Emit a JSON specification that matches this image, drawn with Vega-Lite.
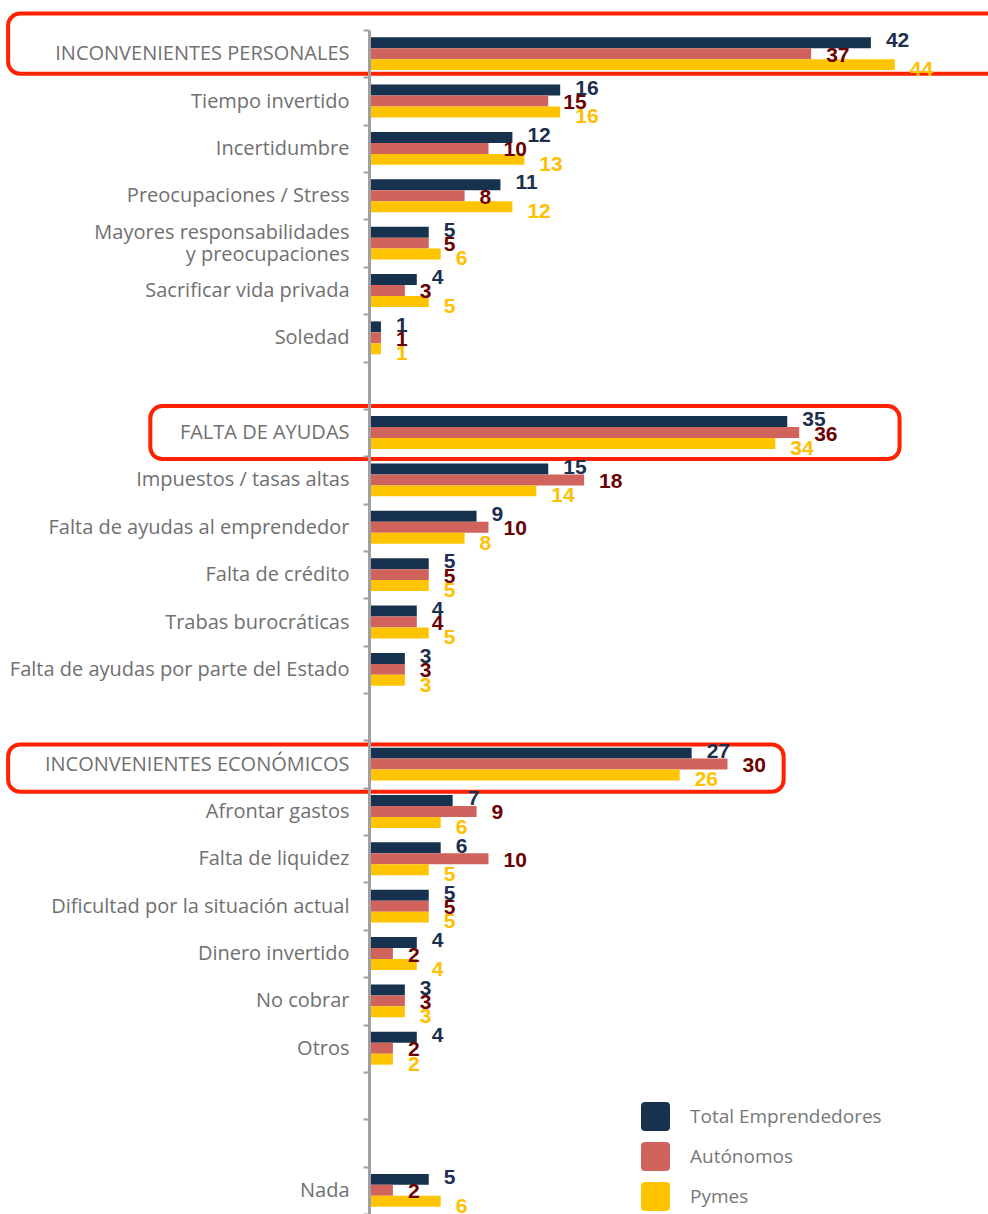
{
  "$schema": "https://vega.github.io/schema/vega-lite/v6.json",
  "autosize": "none",
  "width": 619,
  "height": 1184,
  "padding": {"left": 369, "top": 30, "right": 0, "bottom": 0},
  "background": "white",
  "config": {"view": {"stroke": null}},
  "data": {"values": [
    {"cat": "INCONVENIENTES PERSONALES", "serie": "Total Emprendedores", "valor": 42},
    {"cat": "INCONVENIENTES PERSONALES", "serie": "Autónomos", "valor": 37},
    {"cat": "INCONVENIENTES PERSONALES", "serie": "Pymes", "valor": 44},
    {"cat": "Tiempo invertido", "serie": "Total Emprendedores", "valor": 16},
    {"cat": "Tiempo invertido", "serie": "Autónomos", "valor": 15},
    {"cat": "Tiempo invertido", "serie": "Pymes", "valor": 16},
    {"cat": "Incertidumbre", "serie": "Total Emprendedores", "valor": 12},
    {"cat": "Incertidumbre", "serie": "Autónomos", "valor": 10},
    {"cat": "Incertidumbre", "serie": "Pymes", "valor": 13},
    {"cat": "Preocupaciones / Stress", "serie": "Total Emprendedores", "valor": 11},
    {"cat": "Preocupaciones / Stress", "serie": "Autónomos", "valor": 8},
    {"cat": "Preocupaciones / Stress", "serie": "Pymes", "valor": 12},
    {"cat": "Mayores responsabilidades y preocupaciones", "serie": "Total Emprendedores", "valor": 5},
    {"cat": "Mayores responsabilidades y preocupaciones", "serie": "Autónomos", "valor": 5},
    {"cat": "Mayores responsabilidades y preocupaciones", "serie": "Pymes", "valor": 6},
    {"cat": "Sacrificar vida privada", "serie": "Total Emprendedores", "valor": 4},
    {"cat": "Sacrificar vida privada", "serie": "Autónomos", "valor": 3},
    {"cat": "Sacrificar vida privada", "serie": "Pymes", "valor": 5},
    {"cat": "Soledad", "serie": "Total Emprendedores", "valor": 1},
    {"cat": "Soledad", "serie": "Autónomos", "valor": 1},
    {"cat": "Soledad", "serie": "Pymes", "valor": 1},
    {"cat": "FALTA DE AYUDAS", "serie": "Total Emprendedores", "valor": 35},
    {"cat": "FALTA DE AYUDAS", "serie": "Autónomos", "valor": 36},
    {"cat": "FALTA DE AYUDAS", "serie": "Pymes", "valor": 34},
    {"cat": "Impuestos / tasas altas", "serie": "Total Emprendedores", "valor": 15},
    {"cat": "Impuestos / tasas altas", "serie": "Autónomos", "valor": 18},
    {"cat": "Impuestos / tasas altas", "serie": "Pymes", "valor": 14},
    {"cat": "Falta de ayudas al emprendedor", "serie": "Total Emprendedores", "valor": 9},
    {"cat": "Falta de ayudas al emprendedor", "serie": "Autónomos", "valor": 10},
    {"cat": "Falta de ayudas al emprendedor", "serie": "Pymes", "valor": 8},
    {"cat": "Falta de crédito", "serie": "Total Emprendedores", "valor": 5},
    {"cat": "Falta de crédito", "serie": "Autónomos", "valor": 5},
    {"cat": "Falta de crédito", "serie": "Pymes", "valor": 5},
    {"cat": "Trabas burocráticas", "serie": "Total Emprendedores", "valor": 4},
    {"cat": "Trabas burocráticas", "serie": "Autónomos", "valor": 4},
    {"cat": "Trabas burocráticas", "serie": "Pymes", "valor": 5},
    {"cat": "Falta de ayudas por parte del Estado", "serie": "Total Emprendedores", "valor": 3},
    {"cat": "Falta de ayudas por parte del Estado", "serie": "Autónomos", "valor": 3},
    {"cat": "Falta de ayudas por parte del Estado", "serie": "Pymes", "valor": 3},
    {"cat": "INCONVENIENTES ECONÓMICOS", "serie": "Total Emprendedores", "valor": 27},
    {"cat": "INCONVENIENTES ECONÓMICOS", "serie": "Autónomos", "valor": 30},
    {"cat": "INCONVENIENTES ECONÓMICOS", "serie": "Pymes", "valor": 26},
    {"cat": "Afrontar gastos", "serie": "Total Emprendedores", "valor": 7},
    {"cat": "Afrontar gastos", "serie": "Autónomos", "valor": 9},
    {"cat": "Afrontar gastos", "serie": "Pymes", "valor": 6},
    {"cat": "Falta de liquidez", "serie": "Total Emprendedores", "valor": 6},
    {"cat": "Falta de liquidez", "serie": "Autónomos", "valor": 10},
    {"cat": "Falta de liquidez", "serie": "Pymes", "valor": 5},
    {"cat": "Dificultad por la situación actual", "serie": "Total Emprendedores", "valor": 5},
    {"cat": "Dificultad por la situación actual", "serie": "Autónomos", "valor": 5},
    {"cat": "Dificultad por la situación actual", "serie": "Pymes", "valor": 5},
    {"cat": "Dinero invertido", "serie": "Total Emprendedores", "valor": 4},
    {"cat": "Dinero invertido", "serie": "Autónomos", "valor": 2},
    {"cat": "Dinero invertido", "serie": "Pymes", "valor": 4},
    {"cat": "No cobrar", "serie": "Total Emprendedores", "valor": 3},
    {"cat": "No cobrar", "serie": "Autónomos", "valor": 3},
    {"cat": "No cobrar", "serie": "Pymes", "valor": 3},
    {"cat": "Otros", "serie": "Total Emprendedores", "valor": 4},
    {"cat": "Otros", "serie": "Autónomos", "valor": 2},
    {"cat": "Otros", "serie": "Pymes", "valor": 2},
    {"cat": "Nada", "serie": "Total Emprendedores", "valor": 5},
    {"cat": "Nada", "serie": "Autónomos", "valor": 2},
    {"cat": "Nada", "serie": "Pymes", "valor": 6}
  ]},
  "encoding": {
    "x": {"field": "valor", "type": "quantitative", "scale": {"domain": [0, 51.8], "nice": false, "zero": true}, "axis": null},
    "y": {
      "field": "cat",
      "type": "nominal",
      "scale": {
        "domain": ["INCONVENIENTES PERSONALES", "Tiempo invertido", "Incertidumbre", "Preocupaciones / Stress", "Mayores responsabilidades y preocupaciones", "Sacrificar vida privada", "Soledad", " ", "FALTA DE AYUDAS", "Impuestos / tasas altas", "Falta de ayudas al emprendedor", "Falta de crédito", "Trabas burocráticas", "Falta de ayudas por parte del Estado", "  ", "INCONVENIENTES ECONÓMICOS", "Afrontar gastos", "Falta de liquidez", "Dificultad por la situación actual", "Dinero invertido", "No cobrar", "Otros", "   ", "    ", "Nada"],
        "paddingInner": 0,
        "paddingOuter": 0
      },
      "axis": {
        "title": null,
        "tickBand": "extent",
        "domainColor": "#a0a0a0",
        "domainWidth": 3,
        "tickColor": "#a0a0a0",
        "tickWidth": 2,
        "tickSize": 6,
        "labelPadding": 14,
        "labelFont": "Open Sans",
        "labelFontSize": 20,
        "labelColor": "#707070",
        "labelLimit": 400,
        "labelLineHeight": 22,
        "labelOffset": {"condition": {"test": "datum.value == 'Mayores responsabilidades y preocupaciones'", "value": -11}, "value": 0},
        "labelExpr": "datum.label == 'Mayores responsabilidades y preocupaciones' ? ['Mayores responsabilidades', 'y preocupaciones'] : datum.label"
      }
    }
  },
  "layer": [
    {
      "transform": [{"filter": "datum.serie == 'Total Emprendedores' && datum.cat == 'INCONVENIENTES PERSONALES'"}],
      "mark": {"type": "rect", "fillOpacity": 0, "stroke": "#ff2200", "strokeWidth": 4, "cornerRadius": 12, "height": {"band": 1.27}, "yOffset": -10},
      "encoding": {"x": {"datum": -30.2, "type": "quantitative"}, "x2": {"datum": 53}}
    },
    {
      "transform": [{"filter": "datum.serie == 'Total Emprendedores' && datum.cat == 'FALTA DE AYUDAS'"}],
      "mark": {"type": "rect", "fillOpacity": 0, "stroke": "#ff2200", "strokeWidth": 4, "cornerRadius": 12, "height": {"band": 1.12}},
      "encoding": {"x": {"datum": -18.3, "type": "quantitative"}, "x2": {"datum": 44.4}}
    },
    {
      "transform": [{"filter": "datum.serie == 'Total Emprendedores' && datum.cat == 'INCONVENIENTES ECONÓMICOS'"}],
      "mark": {"type": "rect", "fillOpacity": 0, "stroke": "#ff2200", "strokeWidth": 4, "cornerRadius": 12, "yOffset": 4},
      "encoding": {"x": {"datum": -30.2, "type": "quantitative"}, "x2": {"datum": 34.7}}
    },
    {
      "mark": {"type": "bar"},
      "encoding": {
        "yOffset": {"field": "serie", "type": "nominal", "scale": {"domain": ["Total Emprendedores", "Autónomos", "Pymes"], "paddingInner": 0, "paddingOuter": 0.66}},
        "color": {
          "field": "serie",
          "type": "nominal",
          "scale": {"domain": ["Total Emprendedores", "Autónomos", "Pymes"], "range": ["#17324f", "#d0635b", "#ffc400"]},
          "legend": {
            "title": null,
            "orient": "none",
            "legendX": 272,
            "legendY": 1072,
            "direction": "vertical",
            "padding": 0,
            "symbolType": "M-0.72,-1H0.72Q1,-1 1,-0.72V0.72Q1,1 0.72,1H-0.72Q-1,1 -1,0.72V-0.72Q-1,-1 -0.72,-1Z",
            "symbolSize": 841,
            "symbolStrokeWidth": 0,
            "symbolOpacity": 1,
            "rowPadding": 11,
            "labelOffset": 20,
            "labelLimit": 0,
            "labelFont": "Open Sans",
            "labelFontSize": 19,
            "labelColor": "#777777"
          }
        }
      }
    },
    {
      "mark": {"type": "text", "align": "left", "baseline": "middle", "dx": 15, "dy": 2, "font": "Liberation Sans", "fontWeight": "bold", "fontSize": 21},
      "encoding": {
        "yOffset": {"field": "serie", "type": "nominal", "scale": {"domain": ["Total Emprendedores", "Autónomos", "Pymes"], "paddingInner": 0, "paddingOuter": 0.66}},
        "text": {"field": "valor", "type": "quantitative"},
        "color": {
          "field": "serie",
          "type": "nominal",
          "scale": {"domain": ["Total Emprendedores", "Autónomos", "Pymes"], "range": ["#1c2f4f", "#6b0000", "#ffc000"]},
          "legend": null
        }
      }
    }
  ],
  "resolve": {"scale": {"color": "independent", "yOffset": "independent"}}
}
